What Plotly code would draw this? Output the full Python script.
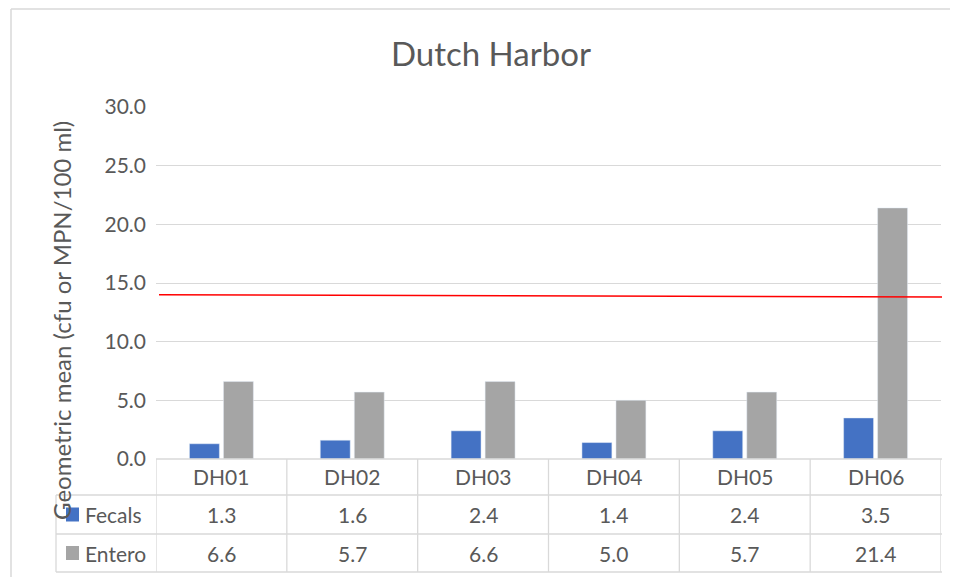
import plotly.graph_objects as go

categories = ["DH01", "DH02", "DH03", "DH04", "DH05", "DH06"]
fecals = [1.3, 1.6, 2.4, 1.4, 2.4, 3.5]
entero = [6.6, 5.7, 6.6, 5.0, 5.7, 21.4]
series_names = ["Fecals", "Entero"]
threshold = [14.0, 13.8]  # red reference line, left and right ends
y_ticks = [0, 5, 10, 15, 20, 25, 30]

# page body has an 8px margin; work in screen pixels and subtract it
OFF = 8
W, H = 958 - OFF, 577 - OFF
L, R, T, B = 156 - OFF, 17, 107 - OFF, 118
PW = W - L - R
PH = H - T - B

def px(xs):
    return (xs - OFF - L) / PW

def py(ys):
    return (H - B - (ys - OFF)) / PH

TXT = "#595959"
GRID = "#D9D9D9"
FONT = "Lato"
BLUE = "#4472C4"
GRAY = "#A5A5A5"

fig = go.Figure()
fig.add_bar(x=categories, y=fecals, name=series_names[0], marker_color=BLUE, showlegend=False)
fig.add_bar(x=categories, y=entero, name=series_names[1], marker_color=GRAY, showlegend=False)

shapes = []
annotations = []

# red threshold line (over bars)
shapes.append(dict(type="line", xref="paper", yref="y", x0=px(159), x1=px(942),
                   y0=threshold[0], y1=threshold[1], line=dict(color="#FF0000", width=1.5),
                   layer="above"))

# table lines
row_y = [459, 495, 534, 572]
ln = dict(color=GRID, width=1.3)
shapes.append(dict(type="line", xref="paper", yref="paper", x0=px(156), x1=px(942),
                   y0=py(row_y[0]), y1=py(row_y[0]), line=ln))
for r in row_y[1:]:
    shapes.append(dict(type="line", xref="paper", yref="paper", x0=px(56), x1=px(942),
                       y0=py(r), y1=py(r), line=ln))
shapes.append(dict(type="line", xref="paper", yref="paper", x0=px(56), x1=px(56),
                   y0=py(row_y[1]), y1=py(row_y[3]), line=ln))
for i in range(len(categories) + 1):
    shapes.append(dict(type="line", xref="x", yref="paper", x0=i - 0.5, x1=i - 0.5,
                       y0=py(row_y[0]), y1=py(row_y[3]), line=ln))

# chart border (left and top)
shapes.append(dict(type="line", xref="paper", yref="paper", x0=px(11), x1=px(11),
                   y0=py(9), y1=py(590), line=dict(color=GRID, width=1.5)))
shapes.append(dict(type="line", xref="paper", yref="paper", x0=px(11), x1=px(970),
                   y0=py(9), y1=py(9), line=dict(color=GRID, width=1.5)))

tf = dict(family=FONT, size=21, color=TXT)
row_c = [(row_y[k] + row_y[k + 1]) / 2 for k in range(3)]
for i, c in enumerate(categories):
    annotations.append(dict(x=i, xref="x", y=py(row_c[0]), yref="paper", text=c,
                            showarrow=False, font=tf, xanchor="center", yanchor="middle"))
    annotations.append(dict(x=i, xref="x", y=py(row_c[1]), yref="paper", text=f"{fecals[i]:.1f}",
                            showarrow=False, font=tf, xanchor="center", yanchor="middle"))
    annotations.append(dict(x=i, xref="x", y=py(row_c[2]), yref="paper", text=f"{entero[i]:.1f}",
                            showarrow=False, font=tf, xanchor="center", yanchor="middle"))

# legend keys
for k, (name, col) in enumerate(zip(series_names, [BLUE, GRAY])):
    cy = row_c[k + 1]
    shapes.append(dict(type="rect", xref="paper", yref="paper", x0=px(66), x1=px(79),
                       y0=py(cy - 7), y1=py(cy + 7), fillcolor=col, line=dict(width=0)))
    annotations.append(dict(x=px(83), xref="paper", y=py(cy), yref="paper", text=name,
                            showarrow=False, font=tf, xanchor="left", yanchor="middle"))

# y axis title
annotations.append(dict(x=px(61), xref="paper", y=py(321), yref="paper",
                        text="Geometric mean (cfu or MPN/100 ml)", textangle=-90,
                        showarrow=False, font=dict(family=FONT, size=24, color=TXT),
                        xanchor="center", yanchor="middle"))

# chart title
annotations.append(dict(x=px(491), xref="paper", y=py(53), yref="paper", text="Dutch Harbor",
                        showarrow=False, font=dict(family=FONT, size=33, color=TXT),
                        xanchor="center", yanchor="middle"))

fig.update_layout(
    width=W, height=H,
    margin=dict(l=L, r=R, t=T, b=B, autoexpand=False),
    paper_bgcolor="white", plot_bgcolor="white",
    barmode="group", bargap=0.48, bargroupgap=0.12,
    showlegend=False,
    shapes=shapes, annotations=annotations,
    font=dict(family=FONT, color=TXT),
)
fig.update_xaxes(range=[-0.5, 5.5], showticklabels=False, showgrid=False, zeroline=False,
                 showline=False, ticks="")
fig.update_yaxes(range=[0, 30], tickvals=y_ticks, tickformat=".1f", showgrid=True,
                 gridcolor=GRID, gridwidth=1.3, zeroline=False, showline=False, ticks="",
                 tickfont=dict(family=FONT, size=21, color=TXT), ticklabelstandoff=9)

fig.write_html("out.html")
